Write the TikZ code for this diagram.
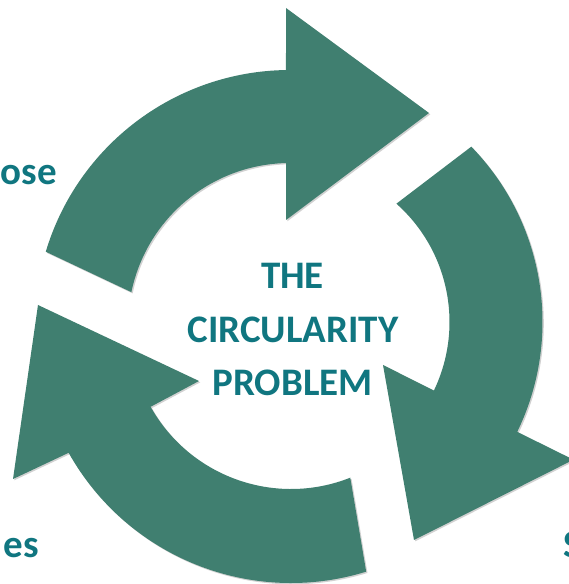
\documentclass[tikz,border=0pt]{standalone}
\usepackage{fontspec}
\setmainfont{Carlito}
\usetikzlibrary{shadows}
\definecolor{arrowgreen}{RGB}{64,127,112}
\definecolor{textteal}{RGB}{16,118,128}
\begin{document}
\begin{tikzpicture}[x=1pt,y=1pt,
  arrowshape/.style={fill=arrowgreen, draw=none,
    drop shadow={shadow xshift=1.3pt, shadow yshift=-1.3pt, opacity=0.18, fill=black}},
  lbl/.style={text=textteal, font=\fontsize{39}{47}\selectfont\bfseries, inner sep=0pt}]
\useasboundingbox (0,0) rectangle (569,584);
% centres of the three arcs
\coordinate (c1) at (290,259);
\coordinate (c2) at (291,262);
\coordinate (c3) at (291,256);
% top arrow
\coordinate (w1a) at (286,576);
\coordinate (tip1) at (429,471);
\coordinate (w1b) at (286,364);
\fill[arrowshape] ([shift={(163.3:255)}]c1) arc[start angle=163.3, end angle=90.9, radius=255]
  -- (w1a) -- (tip1) -- (w1b)
  -- ([shift={(91.4:162)}]c1) arc[start angle=91.4, end angle=168.3, radius=162] -- cycle;
% right arrow
\coordinate (w2a) at (573.5,124.3);
\coordinate (tip2) at (414,44);
\coordinate (w2b) at (383,219);
\fill[arrowshape] ([shift={(44.2:251.5)}]c2) arc[start angle=44.2, end angle=-25.9, radius=251.5]
  -- (w2a) -- (tip2) -- (w2b)
  -- ([shift={(-25.6:158.5)}]c2) arc[start angle=-25.6, end angle=48.3, radius=158.5] -- cycle;
% bottom-left arrow
\coordinate (w3a) at (13,105);
\coordinate (tip3) at (38,279);
\coordinate (w3b) at (199,203);
\fill[arrowshape] ([shift={(287.15:255)}]c3) arc[start angle=287.15, end angle=209.3, radius=255]
  -- (w3a) -- (tip3) -- (w3b)
  -- ([shift={(209.3:161)}]c3) arc[start angle=209.3, end angle=291.6, radius=161] -- cycle;
% centre text
\node[lbl, anchor=base] (t1) at (292.5,295.7) {THE};
\node[lbl, anchor=base] (t2) at (293,241.7) {CIRCULARITY};
\node[lbl, anchor=base] (t3) at (292.5,188) {PROBLEM};
% cut labels
\node[lbl, anchor=base east] (l1) at (57,399) {ose};
\node[lbl, anchor=base east] (l2) at (39,27) {es};
\node[lbl, anchor=base west] (l3) at (563,27) {S};
\end{tikzpicture}
\end{document}
